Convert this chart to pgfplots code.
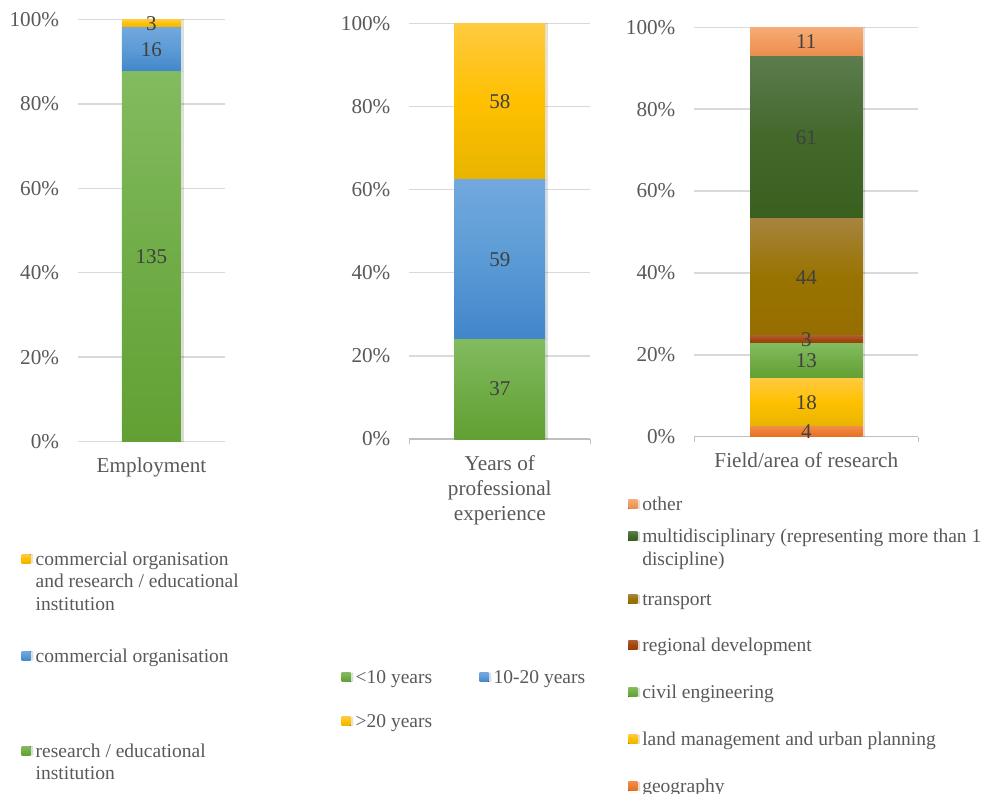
\documentclass[border=0pt]{standalone}
\usepackage{pgfplots}
\pgfplotsset{compat=1.18}
\usepackage{pgfplotstable}
\usepackage{fontspec}
\setmainfont{Liberation Serif}

\definecolor{txt}{HTML}{595959}
\definecolor{lbl}{HTML}{404040}
\definecolor{gridc}{HTML}{D9D9D9}
\definecolor{axc}{HTML}{BFBFBF}
\definecolor{gT}{RGB}{131,187,96}
\definecolor{gM}{RGB}{112,173,71}
\definecolor{gB}{RGB}{98,160,52}
\definecolor{bT}{RGB}{114,168,222}
\definecolor{bM}{RGB}{91,155,213}
\definecolor{bB}{RGB}{66,134,202}
\definecolor{yT}{RGB}{255,202,64}
\definecolor{yM}{RGB}{255,192,0}
\definecolor{yB}{RGB}{232,180,0}
\definecolor{oT}{RGB}{244,140,72}
\definecolor{oM}{RGB}{237,125,49}
\definecolor{oB}{RGB}{226,112,38}
\definecolor{lT}{RGB}{246,172,118}
\definecolor{lM}{RGB}{242,155,95}
\definecolor{lB}{RGB}{236,140,78}
\definecolor{dT}{RGB}{92,124,78}
\definecolor{dM}{RGB}{66,104,42}
\definecolor{dB}{RGB}{58,96,32}
\definecolor{tT}{RGB}{166,132,62}
\definecolor{tM}{RGB}{153,115,0}
\definecolor{tB}{RGB}{150,110,0}
\definecolor{rT}{RGB}{176,90,45}
\definecolor{rM}{RGB}{158,72,14}
\definecolor{rB}{RGB}{150,62,5}

% columns: p = share in %, n = count
% Employment: research/educational, commercial, both
\pgfplotstableread{
x p1 n1 p2 n2 p3 n3
0 87.662 135 10.390 16 1.948 3
}\tabA
% Years of professional experience: <10, 10-20, >20
\pgfplotstableread{
x p1 n1 p2 n2 p3 n3
0 24.026 37 38.312 59 37.662 58
}\tabB
% Field: geography, land, civil, regional, transport, multi, other
\pgfplotstableread{
x p1 n1 p2 n2 p3 n3 p4 n4 p5 n5 p6 n6 p7 n7
0 2.597 4 11.688 18 8.442 13 1.948 3 28.571 44 39.610 61 7.143 11
}\tabC

\newcommand{\LE}[3]{\parbox[t]{#1}{\raggedright\rule{0pt}{8pt}#3\rule[-#2]{0pt}{#2}}}

\pgfplotsset{
  sq/.style n args={3}{draw=none, top color=#1, bottom color=#3, middle color=#2,
    preaction={fill=black, fill opacity=0.10, transform canvas={xshift=1.3pt}},
    legend image code/.code={\fill[top color=#1, bottom color=#3, middle color=#2] (0pt,1pt) rectangle (4.5pt,5.5pt); \path (0pt,0pt) -- (7pt,0pt);}},
  panel/.style={
    scale only axis, ybar stacked,
    ymin=0, ymax=100, xmin=-1, xmax=1,
    ytick={0,20,...,100}, ymajorgrids,
    grid style={draw=gridc, line width=0.75pt},
    yticklabel={\pgfmathprintnumber{\tick}\%},
    /pgf/number format/assume math mode=true,
    major tick length=0pt,
    xtick={0},
    axis x line*=bottom, axis y line*=left,
    y axis line style={draw=none},
    x axis line style={draw=axc, line width=0.75pt, -},
    yticklabel style={anchor=east, inner sep=0pt, xshift=-9.25pt, text=txt, font=\fontsize{10.6}{12.5}\selectfont},
    xticklabel style={anchor=base, inner sep=0pt, yshift=-15.5pt, text=txt, font=\fontsize{10.6}{12.5}\selectfont},
    point meta=explicit,
    nodes near coords,
    every node near coord/.append style={anchor=center, inner sep=0pt, text=lbl, font=\fontsize{10.5}{12}\selectfont},
    legend style={draw=none, fill=none, inner sep=0pt, outer sep=0pt, row sep=0pt, column sep=0pt,
      cells={anchor=base west},
      nodes={inner sep=0pt, outer sep=0pt, text depth={}, text height={}, text=txt, font=\fontsize{9.75}{11.25}\selectfont},
      anchor=north west},
  },
  bracket/.style={extra x ticks={-1,1}, extra x tick labels={},
    extra x tick style={major tick length=2.5pt, tick align=outside, tick style={draw=axc, line width=0.75pt}}},
}

\begin{document}
\begin{tikzpicture}
\path[use as bounding box] (0,0) rectangle (491pt,397pt);

% ---------- Employment ----------
\begin{axis}[panel, at={(39pt,176.2pt)}, anchor=south west,
  width=73.5pt, height=211.1pt, bar width=29.5pt,
  xticklabels={Employment}, x axis line style={draw=none},
  reverse legend,
  legend style={at={(axis description cs:-0.383,-0.2551)}, anchor=north west}]
\addplot[sq={gT}{gM}{gB}] table[x=x,y=p1,meta=n1]{\tabA};
\addlegendentry{\LE{150pt}{0pt}{research / educational\\institution}}
\addplot[sq={bT}{bM}{bB}] table[x=x,y=p2,meta=n2]{\tabA};
\addlegendentry{\LE{150pt}{39.5pt}{commercial organisation}}
\addplot[sq={yT}{yM}{yB}] table[x=x,y=p3,meta=n3]{\tabA};
\addlegendentry{\LE{150pt}{18pt}{commercial organisation\\and research / educational\\institution}}
\end{axis}

% ---------- Years of professional experience ----------
\begin{axis}[panel, bracket, at={(204.65pt,177.5pt)}, anchor=south west,
  width=90.5pt, height=207.85pt, bar width=45.35pt,
  xticklabels={\parbox[t]{100pt}{\centering Years of\\professional\\experience}},
  legend columns=2,
  legend style={at={(axis description cs:-0.3735,-0.5502)}, anchor=north west}]
\addplot[sq={gT}{gM}{gB}] table[x=x,y=p1,meta=n1]{\tabB};
\addlegendentry{\LE{62pt}{14pt}{<10 years}}
\addplot[sq={bT}{bM}{bB}] table[x=x,y=p2,meta=n2]{\tabB};
\addlegendentry{\LE{62pt}{14pt}{10-20 years}}
\addplot[sq={yT}{yM}{yB}] table[x=x,y=p3,meta=n3]{\tabB};
\addlegendentry{\LE{62pt}{0pt}{>20 years}}
\end{axis}

% ---------- Field/area of research ----------
\begin{axis}[panel, bracket, at={(347.15pt,178.65pt)}, anchor=south west,
  width=112pt, height=204.7pt, bar width=56.15pt,
  xticklabels={Field/area of research},
  reverse legend,
  legend style={at={(axis description cs:-0.2946,-0.1412)}, anchor=north west}]
\addplot[sq={oT}{oM}{oB}] table[x=x,y=p1,meta=n1]{\tabC};
\addlegendentry{\LE{250pt}{0pt}{geography}}
\addplot[sq={yT}{yM}{yB}] table[x=x,y=p2,meta=n2]{\tabC};
\addlegendentry{\LE{250pt}{15.5pt}{land management and urban planning}}
\addplot[sq={gT}{gM}{gB}] table[x=x,y=p3,meta=n3]{\tabC};
\addlegendentry{\LE{250pt}{15.5pt}{civil engineering}}
\addplot[sq={rT}{rM}{rB}] table[x=x,y=p4,meta=n4]{\tabC};
\addlegendentry{\LE{250pt}{15.5pt}{regional development}}
\addplot[sq={tT}{tM}{tB}] table[x=x,y=p5,meta=n5]{\tabC};
\addlegendentry{\LE{250pt}{15pt}{transport}}
\addplot[sq={dT}{dM}{dB}] table[x=x,y=p6,meta=n6]{\tabC};
\addlegendentry{\LE{250pt}{12.25pt}{multidisciplinary (representing more than 1\\discipline)}}
\addplot[sq={lT}{lM}{lB}] table[x=x,y=p7,meta=n7]{\tabC};
\addlegendentry{\LE{250pt}{8pt}{other}}
\end{axis}
\end{tikzpicture}
\end{document}
